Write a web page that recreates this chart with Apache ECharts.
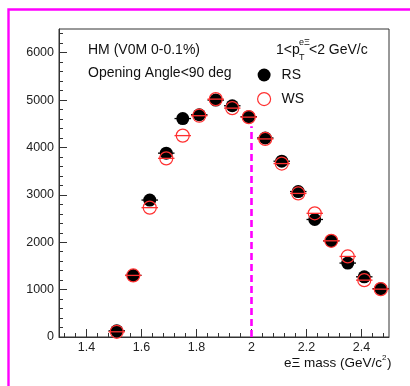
<!DOCTYPE html>
<html>
<head>
<meta charset="utf-8">
<script src="https://cdn.jsdelivr.net/npm/echarts@6/dist/echarts.min.js"></script>
<style>
  html, body { margin: 0; padding: 0; background: #fff; }
  #chart { width: 410px; height: 386px; }
</style>
</head>
<body>
<div id="chart"></div>
<script>
// bin centres (GeV/c^2)
const massBins = [1.51, 1.57, 1.63, 1.69, 1.75, 1.81, 1.87, 1.93, 1.99, 2.05, 2.11, 2.17, 2.23, 2.29, 2.35, 2.41, 2.47]
// right-sign and wrong-sign counts
const rsCounts = [130, 1300, 2890, 3880, 4610, 4690, 5000, 4880, 4650, 4200, 3710, 3070, 2480, 2030, 1560, 1270, 1020]
const wsCounts = [110, 1300, 2730, 3770, 4250, 4670, 5020, 4830, 4640, 4180, 3660, 3030, 2610, 2030, 1700, 1200, 1010]
const binHalfWidth = 0.03

// axis ticks
const xTicks = [1.4, 1.6, 1.8, 2.0, 2.2, 2.4]
const xMinorTicks = [1.32, 1.36, 1.44, 1.48, 1.52, 1.56, 1.64, 1.68, 1.72, 1.76, 1.84, 1.88, 1.92, 1.96,
  2.04, 2.08, 2.12, 2.16, 2.24, 2.28, 2.32, 2.36, 2.44, 2.48]
const yTicks = [0, 1000, 2000, 3000, 4000, 5000, 6000]
const yMinorTicks = [200, 400, 600, 800, 1200, 1400, 1600, 1800, 2200, 2400, 2600, 2800, 3200, 3400, 3600, 3800,
  4200, 4400, 4600, 4800, 5200, 5400, 5600, 5800, 6200, 6400]

const cutMass = 2.0
const cutLineTop = 4450

const FONT = '"Liberation Sans", Arial, Helvetica, sans-serif'
const chart = echarts.init(document.getElementById('chart'))

function pairs(xs, ys) {
  return xs.map((x, i) => [x, ys[i]])
}

// horizontal bin-width error bars
function errBar(color) {
  return function (params, api) {
    const x = api.value(0)
    const y = api.value(1)
    const p1 = api.coord([x - binHalfWidth, y])
    const p2 = api.coord([x + binHalfWidth, y])
    return {
      type: 'line',
      shape: { x1: p1[0], y1: p1[1], x2: p2[0], y2: p2[1] },
      style: { stroke: color, lineWidth: 1.3 },
    }
  }
}

const labelStyle = { fontFamily: FONT, fontSize: 12.5, color: '#222' }

chart.setOption({
  animation: false,
  grid: {
    left: 59,
    right: 21,
    top: 29,
    bottom: 49,
    show: true,
    borderColor: '#333',
    borderWidth: 1,
  },
  xAxis: [
    {
      type: 'value',
      min: 1.3,
      max: 2.5,
      axisLine: { lineStyle: { color: '#333' } },
      axisTick: { inside: true, length: 8, customValues: xTicks, lineStyle: { color: '#333' } },
      axisLabel: { customValues: xTicks, margin: 4, ...labelStyle },
      splitLine: { show: false },
    },
    {
      type: 'value',
      position: 'bottom',
      min: 1.3,
      max: 2.5,
      axisLine: { show: false },
      axisTick: { inside: true, length: 4, customValues: xMinorTicks, lineStyle: { color: '#333' } },
      axisLabel: { show: false },
      splitLine: { show: false },
    },
  ],
  yAxis: [
    {
      type: 'value',
      min: 0,
      max: 6500,
      axisLine: { show: true, lineStyle: { color: '#333' } },
      axisTick: { show: true, inside: true, length: 8, customValues: yTicks, lineStyle: { color: '#333' } },
      axisLabel: { customValues: yTicks, margin: 5, formatter: (v) => String(v), ...labelStyle },
      splitLine: { show: false },
    },
    {
      type: 'value',
      position: 'left',
      min: 0,
      max: 6500,
      axisLine: { show: false },
      axisTick: { show: true, inside: true, length: 4, customValues: yMinorTicks, lineStyle: { color: '#333' } },
      axisLabel: { show: false },
      splitLine: { show: false },
    },
  ],
  legend: {
    orient: 'vertical',
    left: 252,
    top: 63,
    itemWidth: 13,
    itemHeight: 13,
    itemGap: 10,
    textStyle: { fontFamily: FONT, fontSize: 14, color: '#111', padding: [0, 0, 0, 6] },
    data: [
      { name: 'RS', icon: 'circle', itemStyle: { color: '#000', opacity: 1 } },
      { name: 'WS', icon: 'circle', itemStyle: { color: 'rgba(0,0,0,0)', borderColor: '#ff3030', borderWidth: 1.2 } },
    ],
  },
  series: [
    {
      name: 'RS bars',
      type: 'custom',
      renderItem: errBar('#000'),
      data: pairs(massBins, rsCounts),
      z: 2,
    },
    {
      name: 'RS',
      type: 'scatter',
      symbol: 'circle',
      symbolSize: 13,
      itemStyle: { color: '#000', opacity: 1 },
      data: pairs(massBins, rsCounts),
      z: 3,
      markLine: {
        silent: true,
        symbol: 'none',
        label: { show: false },
        lineStyle: { color: '#ff00ff', width: 2.6, type: [7, 4] },
        data: [[{ coord: [cutMass, 0] }, { coord: [cutMass, cutLineTop] }]],
      },
    },
    {
      name: 'WS bars',
      type: 'custom',
      renderItem: errBar('#ff3030'),
      data: pairs(massBins, wsCounts),
      z: 4,
    },
    {
      name: 'WS',
      type: 'scatter',
      symbol: 'circle',
      symbolSize: 13,
      itemStyle: { color: 'rgba(0,0,0,0)', borderColor: '#ff3030', borderWidth: 1.2, opacity: 1 },
      data: pairs(massBins, wsCounts),
      z: 5,
    },
  ],
  graphic: [
    {
      // magenta canvas frame, only top and left edges are in view
      type: 'polyline',
      shape: { points: [[8.5, 400], [8.5, 9.5], [420, 9.5]] },
      style: { fill: 'none', stroke: '#ff00ff', lineWidth: 2.4 },
      silent: true,
    },
    {
      type: 'text', x: 88, y: 50,
      style: { text: 'HM (V0M 0-0.1%)', font: `14px ${FONT}`, fill: '#111', textVerticalAlign: 'middle' },
    },
    {
      type: 'text', x: 88, y: 73,
      style: { text: 'Opening Angle<90 deg', font: `14px ${FONT}`, fill: '#111', textVerticalAlign: 'middle' },
    },
    {
      type: 'text', x: 276, y: 50,
      style: { text: '1<p', font: `14px ${FONT}`, fill: '#111', textVerticalAlign: 'middle' },
    },
    {
      type: 'text', x: 299, y: 58,
      style: { text: 'T', font: `9px ${FONT}`, fill: '#111', textVerticalAlign: 'middle' },
    },
    {
      type: 'text', x: 299, y: 43,
      style: { text: 'eΞ', font: `9px ${FONT}`, fill: '#111', textVerticalAlign: 'middle' },
    },
    {
      type: 'text', x: 309, y: 50,
      style: { text: '<2 GeV/c', font: `14px ${FONT}`, fill: '#111', textVerticalAlign: 'middle' },
    },
    {
      type: 'text', x: 382, y: 363,
      style: { text: 'eΞ mass (GeV/c', font: `13.5px ${FONT}`, fill: '#111', textAlign: 'right', textVerticalAlign: 'middle' },
    },
    {
      type: 'text', x: 382, y: 358,
      style: { text: '2', font: `8px ${FONT}`, fill: '#111', textVerticalAlign: 'middle' },
    },
    {
      type: 'text', x: 387, y: 363,
      style: { text: ')', font: `13.5px ${FONT}`, fill: '#111', textVerticalAlign: 'middle' },
    },
  ],
})
</script>
</body>
</html>
